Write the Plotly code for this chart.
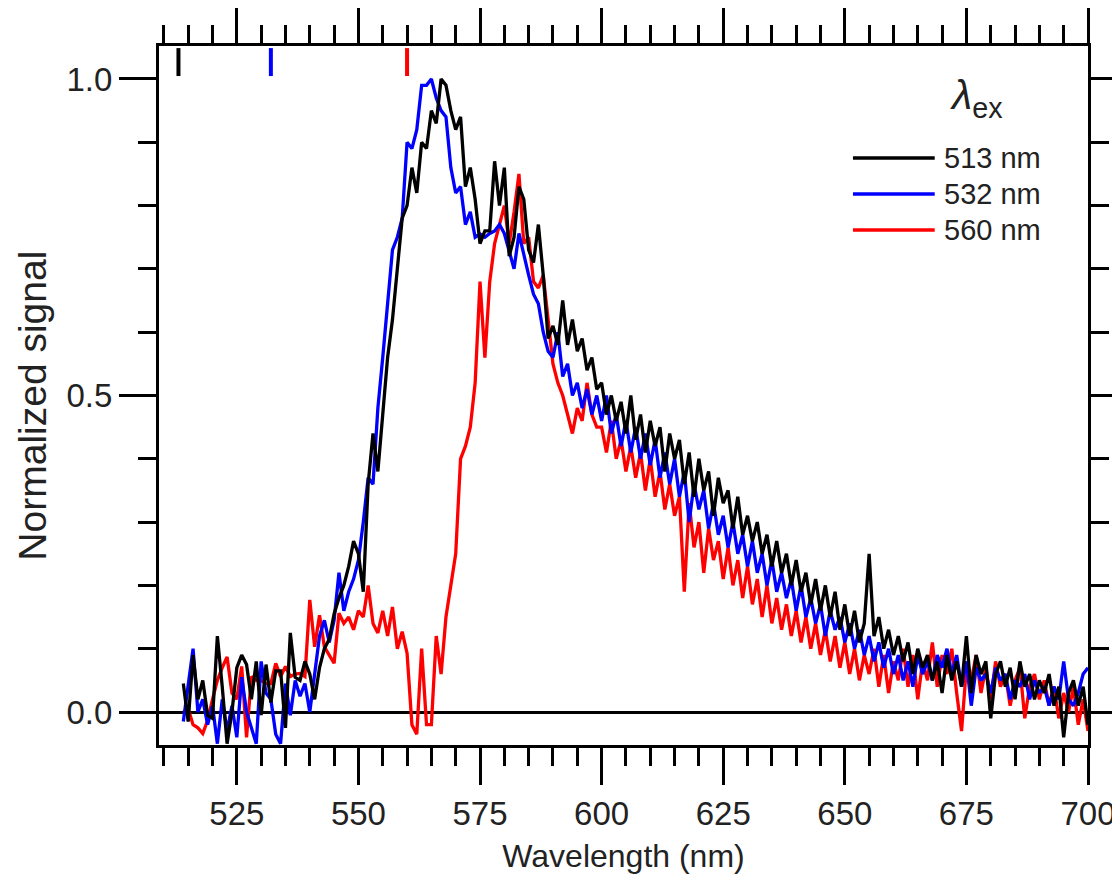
import plotly.graph_objects as go

# ---- data ----
wavelength = list(range(514, 701))

ex_513 = [
    0.045, -0.015, 0.09, 0.02, 0.05, -0.005, -0.01, 0.12, 0.04, -0.05,
    0.00, 0.07, 0.09, 0.075, 0.02, 0.08, -0.005, 0.075, 0.015, 0.065,
    0.065, -0.025, 0.125, 0.055, 0.05, 0.08, 0.06, 0.02, 0.07, 0.10,
    0.115, 0.155, 0.18, 0.20, 0.23, 0.27, 0.25, 0.19, 0.36, 0.44,
    0.38, 0.47, 0.56, 0.62, 0.70, 0.78, 0.80, 0.86, 0.82, 0.90,
    0.89, 0.95, 0.93, 1.00, 0.99, 0.95, 0.92, 0.94, 0.83, 0.86,
    0.81, 0.74, 0.76, 0.76, 0.87, 0.80, 0.86, 0.72, 0.75, 0.83,
    0.81, 0.73, 0.71, 0.77, 0.69, 0.59, 0.61, 0.58, 0.65, 0.58,
    0.62, 0.57, 0.59, 0.54, 0.56, 0.51, 0.52, 0.47, 0.50, 0.46,
    0.49, 0.44, 0.50, 0.43, 0.47, 0.41, 0.46, 0.42, 0.45, 0.38,
    0.44, 0.40, 0.43, 0.36, 0.41, 0.34, 0.40, 0.35, 0.38, 0.31,
    0.37, 0.33, 0.35, 0.29, 0.34, 0.28, 0.31, 0.27, 0.30, 0.25,
    0.28, 0.23, 0.27, 0.22, 0.25, 0.20, 0.24, 0.19, 0.22, 0.17,
    0.21, 0.16, 0.20, 0.15, 0.19, 0.13, 0.17, 0.12, 0.16, 0.11,
    0.14, 0.25, 0.12, 0.15, 0.10, 0.13, 0.09, 0.12, 0.08, 0.11,
    0.06, 0.10, 0.07, 0.09, 0.05, 0.08, 0.03, 0.09, 0.05, 0.08,
    0.04, 0.12, 0.03, 0.09, 0.06, 0.08, -0.01, 0.06, 0.08, 0.04,
    0.07, 0.02, 0.08, 0.04, 0.06, 0.02, 0.05, 0.03, 0.06, 0.01,
    0.04, -0.04, 0.03, 0.05, 0.01, 0.04, -0.02,
]

ex_532 = [
    -0.015, 0.04, 0.10, 0.00, 0.02, -0.02, 0.01, -0.05, 0.02, -0.03,
    0.01, -0.04, 0.055, 0.00, -0.025, -0.05, 0.08, 0.03, 0.02, -0.035,
    -0.05, 0.045, -0.005, 0.05, 0.025, 0.045, 0.00, 0.06, 0.12, 0.145,
    0.11, 0.145, 0.22, 0.16, 0.19, 0.21, 0.24, 0.30, 0.37, 0.36,
    0.48, 0.56, 0.64, 0.73, 0.75, 0.78, 0.90, 0.89, 0.92, 0.99,
    0.99, 1.00, 0.97, 0.95, 0.94, 0.86, 0.82, 0.83, 0.77, 0.79,
    0.75, 0.755, 0.75, 0.756, 0.76, 0.77, 0.756, 0.73, 0.70, 0.756,
    0.72, 0.69, 0.66, 0.645, 0.60, 0.57, 0.56, 0.60, 0.53, 0.55,
    0.50, 0.52, 0.48, 0.51, 0.47, 0.50, 0.46, 0.50, 0.44, 0.47,
    0.42, 0.46, 0.41, 0.45, 0.40, 0.44, 0.39, 0.43, 0.37, 0.41,
    0.36, 0.40, 0.34, 0.38, 0.30, 0.36, 0.32, 0.35, 0.29, 0.33,
    0.28, 0.31, 0.26, 0.30, 0.25, 0.28, 0.23, 0.27, 0.22, 0.25,
    0.20, 0.24, 0.19, 0.22, 0.18, 0.21, 0.16, 0.20, 0.15, 0.18,
    0.14, 0.17, 0.12, 0.16, 0.13, 0.15, 0.11, 0.14, 0.10, 0.13,
    0.09, 0.12, 0.08, 0.11, 0.07, 0.10, 0.06, 0.09, 0.05, 0.08,
    0.04, 0.09, 0.06, 0.08, 0.05, 0.09, 0.07, 0.10, 0.06, 0.09,
    0.04, 0.08, 0.01, 0.07, 0.05, 0.06, 0.03, 0.07, 0.05, 0.06,
    0.02, 0.05, 0.04, 0.06, 0.02, 0.05, 0.03, 0.04, 0.01, 0.04,
    0.02, 0.08, 0.02, 0.01, 0.03, 0.06, 0.07,
]

ex_560 = [
    0.00, 0.005, -0.02, -0.025, -0.034, -0.013, 0.02, 0.05, 0.07, 0.087,
    0.03, 0.02, 0.072, -0.04, 0.056, 0.05, 0.05, 0.045, 0.045, 0.077,
    0.056, 0.072, 0.056, 0.06, 0.061, 0.056, 0.177, 0.103, 0.153, 0.103,
    0.09, 0.077, 0.156, 0.14, 0.15, 0.13, 0.16, 0.15, 0.20, 0.14,
    0.125, 0.16, 0.12, 0.166, 0.10, 0.127, 0.093, -0.02, -0.035, 0.10,
    -0.02, -0.02, 0.12, 0.06, 0.15, 0.20, 0.25, 0.40, 0.42, 0.45,
    0.52, 0.68, 0.56, 0.68, 0.74, 0.77, 0.80, 0.74, 0.79, 0.85,
    0.74, 0.75, 0.68, 0.67, 0.69, 0.62, 0.55, 0.52, 0.50, 0.47,
    0.44, 0.48, 0.46, 0.52, 0.47, 0.45, 0.45, 0.41, 0.46, 0.40,
    0.43, 0.38, 0.42, 0.37, 0.41, 0.35, 0.40, 0.34, 0.38, 0.32,
    0.36, 0.31, 0.34, 0.19, 0.33, 0.26, 0.30, 0.22, 0.29, 0.24,
    0.27, 0.21, 0.26, 0.20, 0.24, 0.18, 0.23, 0.17, 0.21, 0.15,
    0.20, 0.14, 0.18, 0.13, 0.17, 0.12, 0.16, 0.11, 0.15, 0.10,
    0.14, 0.09, 0.13, 0.08, 0.12, 0.07, 0.11, 0.06, 0.10, 0.05,
    0.09, 0.06, 0.10, 0.04, 0.09, 0.03, 0.08, 0.05, 0.10, 0.04,
    0.09, 0.02, 0.08, 0.05, 0.11, 0.04, 0.09, 0.06, 0.10, 0.03,
    -0.03, 0.07, 0.05, 0.09, 0.03, 0.07, 0.02, 0.08, 0.04, 0.06,
    0.01, 0.05, 0.07, -0.01, 0.04, 0.06, 0.02, 0.05, 0.01, 0.04,
    -0.01, 0.03, 0.00, 0.04, -0.02, 0.02, -0.03,
]

series_labels = ["513 nm", "532 nm", "560 nm"]
excitation = [513, 532, 560]
colors = ["#000000", "#0000ff", "#ff0000"]
series = [ex_513, ex_532, ex_560]

FONT = "Liberation Sans, Arial, sans-serif"
TXT = "#222222"

fig = go.Figure()

# draw red, blue, then black on top
for idx in [2, 1, 0]:
    fig.add_trace(go.Scatter(
        x=wavelength, y=series[idx], mode="lines",
        line=dict(color=colors[idx], width=3.3),
        name=series_labels[idx], showlegend=False,
    ))

# excitation markers at top
for w, c in zip(excitation, colors):
    fig.add_shape(type="line", xref="x", yref="paper", x0=w, x1=w,
                  y0=0.957, y1=0.997, line=dict(color=c, width=4))

# manual legend
leg_y = [0.8398, 0.7883, 0.7368]
for lab, c, yy in zip(series_labels, colors, leg_y):
    fig.add_shape(type="line", xref="paper", yref="paper", x0=0.747, x1=0.835,
                  y0=yy, y1=yy, line=dict(color=c, width=3.3))
    fig.add_annotation(xref="paper", yref="paper", x=0.843, y=yy, text=lab,
                       showarrow=False, xanchor="left", yanchor="middle",
                       font=dict(family=FONT, size=29, color=TXT))
fig.add_annotation(xref="paper", yref="paper", x=0.880, y=0.925,
                   text="<i>λ</i><sub>ex</sub>", showarrow=False,
                   xanchor="center", yanchor="middle",
                   font=dict(family=FONT, size=41, color=TXT))

# y-axis title (placed slightly below centre, as in the reference)
fig.add_annotation(xref="paper", yref="paper", x=-0.136, y=0.485,
                   text="Normalized signal", textangle=-90, showarrow=False,
                   xanchor="center", yanchor="middle",
                   font=dict(family=FONT, size=39, color=TXT))

axis_common = dict(
    showline=True, linewidth=3, linecolor="black", mirror="ticks",
    ticks="outside", ticklen=37, tickwidth=3, tickcolor="black",
    showgrid=False, automargin=False,
    tickfont=dict(family=FONT, size=33, color=TXT),
)

fig.update_xaxes(
    **axis_common, range=[509, 700], tick0=500, dtick=25, zeroline=False,
    minor=dict(ticks="outside", dtick=5, ticklen=18, tickwidth=3, tickcolor="black", showgrid=False),
    title=dict(text="Wavelength (nm)", font=dict(family=FONT, size=32, color=TXT), standoff=15),
    ticklabelstandoff=0,
)
fig.update_yaxes(
    **axis_common, range=[-0.0521, 1.0521], tick0=0, dtick=0.5, tickformat=".1f",
    zeroline=True, zerolinecolor="black", zerolinewidth=3,
    minor=dict(ticks="outside", dtick=0.1, ticklen=18, tickwidth=3, tickcolor="black", showgrid=False),
)

# page body has an 8px margin; offset plot margins accordingly
fig.update_layout(
    width=1120, height=880,
    margin=dict(l=151, r=40, t=38, b=143),
    plot_bgcolor="white", paper_bgcolor="white",
    font=dict(family=FONT, color=TXT),
)

fig.write_html("out.html")
